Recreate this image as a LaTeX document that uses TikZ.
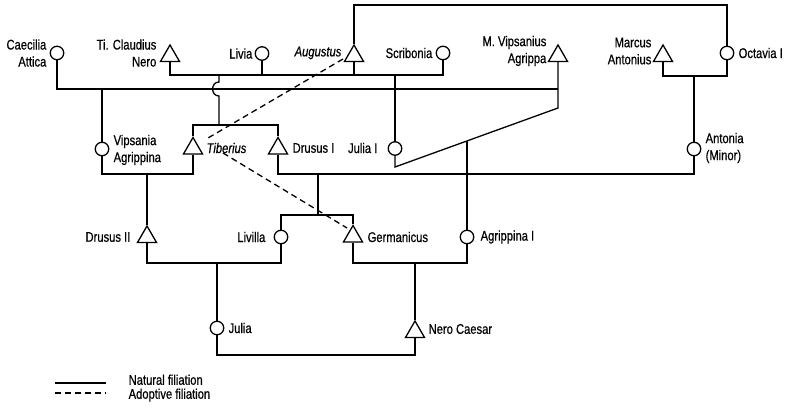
\documentclass[tikz,border=0pt]{standalone}
\usepackage{fontspec}
\setmainfont{Liberation Sans}[FakeStretch=0.8,FakeBold=0.6]
\usetikzlibrary{shapes.geometric}
\begin{document}
\begin{tikzpicture}[x=1pt,y=-1pt,
  every path/.style={line width=1.3pt},
  circ/.style={draw,circle,fill=white,inner sep=0pt,minimum size=13.5pt,line width=1.3pt},
  tri/.style={draw,regular polygon,regular polygon sides=3,fill=white,inner sep=0pt,minimum size=22pt,line width=1.3pt},
  lbl/.style={inner sep=0pt,font=\fontsize{14}{17}\selectfont},
  adopt/.style={dashed,dash pattern=on 6pt off 4pt}]
\useasboundingbox (0,0) rectangle (786,409);

% ---- people: first row
\node[circ] (cae) at (57,53) {};
\node[tri]  (nero) at (170,56) {};
\node[circ] (liv) at (262,53.5) {};
\node[tri]  (aug) at (354,56) {};
\node[circ] (scr) at (443,53) {};
\node[tri]  (agr) at (558,56) {};
\node[tri]  (ant) at (663,56) {};
\node[circ] (oct) at (727,53) {};
% second row
\node[circ] (vip) at (102,149) {};
\node[tri]  (tib) at (193,148.5) {};
\node[tri]  (dru) at (278,148.5) {};
\node[circ] (jul1) at (395,148.5) {};
\node[circ] (anta) at (694,149) {};
% third row
\node[tri]  (dru2) at (147,237) {};
\node[circ] (livl) at (281,237) {};
\node[tri]  (ger) at (353,236.5) {};
\node[circ] (agr1) at (467,237) {};
% fourth row
\node[circ] (jul) at (217,328) {};
\node[tri]  (nc) at (415,332) {};

% ---- labels
\node[lbl,anchor=east,align=right] (tcae) at (47,53) {Caecilia\\Attica};
\node[lbl,anchor=east,align=right] (tnero) at (157,53) {Ti. Claudius\\Nero};
\node[lbl,anchor=east] (tliv) at (253,53.5) {Livia};
\node[lbl,anchor=east] (taug) at (342,53) {\itshape Augustus};
\node[lbl,anchor=east] (tscr) at (433,53) {Scribonia};
\node[lbl,anchor=east,align=right] (tagr) at (547,51) {M. Vipsanius\\Agrippa};
\node[lbl,anchor=east,align=right] (tant) at (652,51) {Marcus\\Antonius};
\node[lbl,anchor=west] (toct) at (738,53) {Octavia I};
\node[lbl,anchor=west,align=left] (tvip) at (113,150) {Vipsania\\Agrippina};
\node[lbl,anchor=west] (ttib) at (206,148) {\itshape Tiberius};
\node[lbl,anchor=west] (tdru) at (292,148) {Drusus I};
\node[lbl,anchor=east] (tjul1) at (378,148) {Julia I};
\node[lbl,anchor=west,align=left] (tanta) at (705,148) {Antonia\\(Minor)};
\node[lbl,anchor=east] (tdru2) at (131,237) {Drusus II};
\node[lbl,anchor=east] (tlivl) at (266,237) {Livilla};
\node[lbl,anchor=west] (tger) at (367,237) {Germanicus};
\node[lbl,anchor=west] (tagr1) at (480,237) {Agrippina I};
\node[lbl,anchor=west] (tjul) at (228,328) {Julia};
\node[lbl,anchor=west] (tnc) at (428,329) {Nero Caesar};

% ---- junction coordinates
\coordinate (agr89) at (558,89);
\coordinate (agrk) at (558,108);
\coordinate (jul1k) at (395,167);
\coordinate (m1) at (443,75);
\coordinate (td) at (219,125);
\coordinate (top) at (727,5);
\coordinate (ma) at (694,76);
\coordinate (vt) at (147,174);
\coordinate (da) at (318,174);
\coordinate (lg) at (318,215);
\coordinate (ag1) at (467,140.94);
\coordinate (dl) at (217,263);
\coordinate (ga) at (415,263);
\coordinate (jn) at (415,355);

% ---- natural filiation
\draw (cae.south) |- (agr89);
\draw (vip.north |- agr89) -- (vip.north);
\draw (agr.south) -- (agrk) -- (jul1k) -- (jul1.south);
\draw (nero.south) |- (m1) -- (scr.south);
\draw (liv.south) -- (liv.south |- m1);
\draw (aug.south) -- (aug.south |- m1);
\draw (td |- m1) -- ++(0,7) .. controls +(-8.5,0) and +(-8.5,0) .. ++(0,14) -- (td);
\draw (tib.north) |- (td) -| (dru.north);
\draw (jul1.north |- m1) -- (jul1.north);
\draw (aug.north) |- (top) -- (oct.north);
\draw (ant.south) |- (ma) -| (oct.south);
\draw (ma) -- (anta.north);
\draw (vip.south) |- (vt) -| (tib.south);
\draw (vt) -- (dru2.north);
\draw (dru.south) |- (da) -| (anta.south);
\draw (da) -- (lg);
\draw (livl.north) |- (lg) -| (ger.north);
\draw (ag1) -- (agr1.north);
\draw (dru2.south) |- (dl) -| (livl.south);
\draw (dl) -- (jul.north);
\draw (ger.south) |- (ga) -| (agr1.south);
\draw (ga) -- (nc.north);
\draw (jul.south) |- (jn) -- (nc.south);

% ---- adoptive filiation
\coordinate (a1) at (343,59);
\coordinate (a2) at (208,138);
\coordinate (t1) at (223,153);
\coordinate (t2) at (347,228);
\draw[adopt] (a1) -- (a2);
\draw[adopt] (t1) -- (t2);

% ---- legend
\coordinate (l1a) at (55,383);
\coordinate (l1b) at (106,383);
\coordinate (l2a) at (55,393);
\coordinate (l2b) at (106,393);
\draw (l1a) -- (l1b);
\draw[adopt] (l2a) -- (l2b);
\node[lbl,anchor=west,text height=9.5pt,text depth=0pt] (tnat) at (128,380) {Natural filiation};
\node[lbl,anchor=west,text height=9.5pt,text depth=0pt] (tadp) at (128,394) {Adoptive filiation};
\end{tikzpicture}
\end{document}
